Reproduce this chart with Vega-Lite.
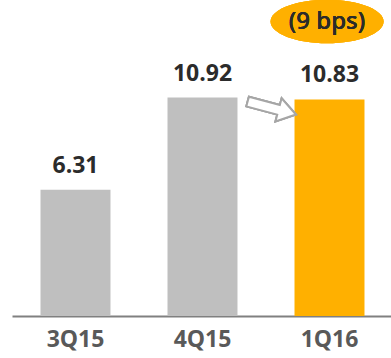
{
  "$schema": "https://vega.github.io/schema/vega-lite/v6.json",
  "width": 391,
  "height": 316,
  "autosize": {"type": "none"},
  "padding": {"left": 0, "top": 0, "right": 0, "bottom": 42},
  "background": "white",
  "config": {"view": {"stroke": null}, "font": "Open Sans"},
  "data": {"values": [
    {"quarter": "3Q15", "value": 6.31, "label": "6.31"},
    {"quarter": "4Q15", "value": 10.92, "label": "10.92"},
    {"quarter": "1Q16", "value": 10.83, "label": "10.83"}
  ]},
  "encoding": {
    "x": {
      "field": "quarter", "type": "nominal", "sort": null,
      "scale": {"type": "band", "domain": ["3Q15", "4Q15", "1Q16"], "range": [12, 393], "paddingInner": 0.449, "paddingOuter": 0.2245},
      "axis": {"title": null, "ticks": false, "domainColor": "#808080", "domainWidth": 2, "labelFontSize": 23, "labelFontWeight": "bold", "labelColor": "#595959", "labelPadding": 12, "labelAngle": 0, "grid": false}
    },
    "y": {"field": "value", "type": "quantitative", "scale": {"domain": [0, 15.8], "nice": false, "zero": true}, "axis": null}
  },
  "layer": [
    {
      "mark": {"type": "bar"},
      "encoding": {
        "color": {"field": "quarter", "type": "nominal", "scale": {"domain": ["3Q15", "4Q15", "1Q16"], "range": ["#BFBFBF", "#BFBFBF", "#FFB000"]}, "legend": null}
      }
    },
    {
      "mark": {"type": "text", "baseline": "alphabetic", "dy": -17, "fontSize": 23, "fontWeight": "bold", "color": "#2b2b2b"},
      "encoding": {"text": {"field": "label"}}
    },
    {
      "mark": {"type": "point", "shape": "M-1,0 A1,0.385 0 1,1 1,0 A1,0.385 0 1,1 -1,0 Z", "filled": true, "color": "#FFB000", "opacity": 1, "size": 12769},
      "encoding": {"x": {"datum": "1Q16", "bandPosition": 0.465}, "y": {"datum": 14.72}}
    },
    {
      "mark": {"type": "text", "text": "(9 bps)", "baseline": "middle", "font": "Noto Sans", "fontSize": 24, "fontWeight": 500, "color": "#2b2b2b"},
      "encoding": {"x": {"datum": "1Q16", "bandPosition": 0.465}, "y": {"datum": 14.72}}
    },
    {
      "mark": {"type": "point", "shape": "M-1,-0.2 L0.28,-0.2 L0.28,-0.48 L1,0 L0.28,0.48 L0.28,0.2 L-1,0.2 Z", "filled": true, "fill": "white", "stroke": "#A6A6A6", "strokeWidth": 2, "opacity": 1, "size": 2500, "angle": 15},
      "encoding": {"x": {"datum": "4Q15", "bandPosition": 1.49}, "y": {"datum": 10.4}}
    }
  ]
}
